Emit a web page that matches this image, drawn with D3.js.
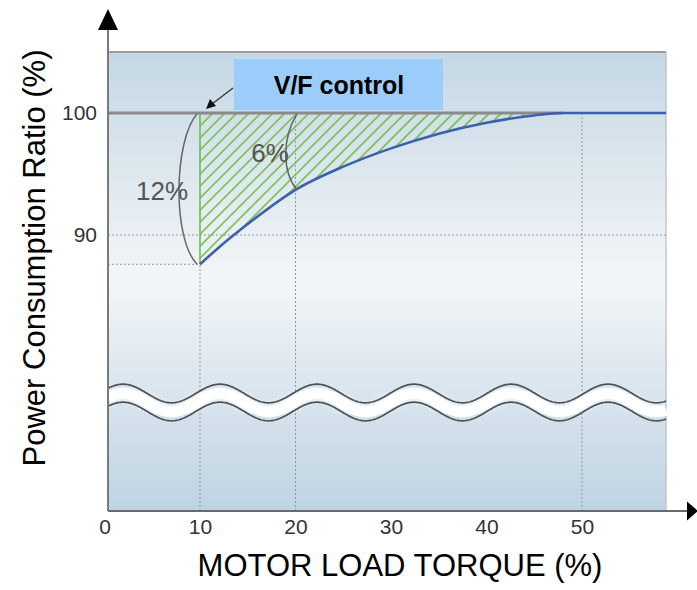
<!DOCTYPE html>
<html>
<head>
<meta charset="utf-8">
<script src="https://cdn.jsdelivr.net/npm/d3@7/dist/d3.min.js"></script>
<style>
  html, body { margin: 0; padding: 0; background: #fff; }
  svg { display: block; font-family: "Liberation Sans", Arial, sans-serif; }
</style>
</head>
<body>
<svg id="chart" width="697" height="590"></svg>
<script>
// ---- data ----
const torque = [10, 12, 15, 20, 25, 30, 35, 40, 45, 48, 50, 58.8];
const ratio  = [87.6, 89.0, 90.9, 93.7, 95.6, 97.1, 98.3, 99.2, 99.8, 100, 100, 100];
const xTicks = [0, 10, 20, 30, 40, 50];
const yTicks = [90, 100];
const gridX = [10, 20, 50];
const gridY = [90];
const xMax = 58.8;
const yTop = 105;
const baseLine = 100;
const minRatio = 87.6;
const saving12 = "12%";
const saving6 = "6%";
const legendLabel = "V/F control";
const xTitle = "MOTOR LOAD TORQUE (%)";
const yTitle = "Power Consumption Ratio (%)";

function draw() {
const svg = d3.select("#chart");
const x = d3.scaleLinear().domain([0, 50]).range([104.5, 582]);
const y = d3.scaleLinear().domain([90, 100]).range([235, 113]);

const pLeft = 108, pRight = x(xMax), pTop = y(yTop), pBottom = 511;

const defs = svg.append("defs");
const grad = defs.append("linearGradient").attr("id", "bg")
  .attr("x1", 0).attr("y1", 0).attr("x2", 0).attr("y2", 1);
[[0, "#c4d7e5"], [0.18, "#d6e2eb"], [0.5, "#f3f6f8"], [0.62, "#e6edf3"], [1, "#bfd3e2"]]
  .forEach(([o, c]) => grad.append("stop").attr("offset", o).attr("stop-color", c));

const pat = defs.append("pattern").attr("id", "hatch")
  .attr("patternUnits", "userSpaceOnUse").attr("width", 8.5).attr("height", 8.5)
  .attr("patternTransform", "rotate(45)");
pat.append("line").attr("x1", 1).attr("y1", 0).attr("x2", 1).attr("y2", 8.5)
  .attr("stroke", "#6cbf4a").attr("stroke-width", 1.6);

const blur = defs.append("filter").attr("id", "soft");
blur.append("feGaussianBlur").attr("stdDeviation", 1.6);

// plot background
svg.append("rect").attr("x", pLeft).attr("y", pTop).attr("width", pRight - pLeft)
  .attr("height", pBottom - pTop).attr("fill", "url(#bg)");

// grid
svg.selectAll(".gx").data(gridX).join("line")
  .attr("x1", d => x(d)).attr("x2", d => x(d)).attr("y1", y(baseLine)).attr("y2", pBottom)
  .attr("stroke", "#8f979e").attr("stroke-width", 1).attr("stroke-dasharray", "2,2");
svg.selectAll(".gy").data(gridY).join("line")
  .attr("x1", pLeft).attr("x2", pRight).attr("y1", d => y(d)).attr("y2", d => y(d))
  .attr("stroke", "#8f979e").attr("stroke-width", 1).attr("stroke-dasharray", "2,2");
svg.append("line").attr("x1", pLeft).attr("x2", x(torque[0]))
  .attr("y1", y(minRatio)).attr("y2", y(minRatio))
  .attr("stroke", "#8f979e").attr("stroke-width", 1).attr("stroke-dasharray", "2,2");

// plot border top / right
svg.append("line").attr("x1", pLeft).attr("x2", pRight).attr("y1", pTop).attr("y2", pTop)
  .attr("stroke", "#9a9a9a").attr("stroke-width", 2);
svg.append("line").attr("x1", pRight).attr("x2", pRight).attr("y1", pTop).attr("y2", pBottom)
  .attr("stroke", "#c4c8cc").attr("stroke-width", 1.5);

// hatched saving area
const pts = torque.map((t, i) => [t, ratio[i]]);
const area = d3.area().x(d => x(d[0])).y0(y(baseLine)).y1(d => y(d[1])).curve(d3.curveMonotoneX);
svg.append("path").datum(pts.filter(d => d[0] <= 48)).attr("d", area)
  .attr("fill", "url(#hatch)");
svg.append("line").attr("x1", x(10)).attr("x2", x(10)).attr("y1", y(baseLine)).attr("y2", y(minRatio))
  .attr("stroke", "#6cbf4a").attr("stroke-width", 1.5);

// 100% reference line (gray)
svg.append("line").attr("x1", pLeft).attr("x2", x(48)).attr("y1", y(baseLine)).attr("y2", y(baseLine))
  .attr("stroke", "#8a8a8a").attr("stroke-width", 3);

// curve
const line = d3.line().x(d => x(d[0])).y(d => y(d[1])).curve(d3.curveMonotoneX);
svg.append("path").datum(pts).attr("d", line)
  .attr("fill", "none").attr("stroke", "#3d5fae").attr("stroke-width", 2.6);

// axis break wave
const waveMid = 402.5, amp = 9.3, period = 97, phase = 123, gap = 9;
const wx = d3.range(pLeft, pRight + 0.5, 1);
const wave = off => d3.line().x(d => d).y(d => waveMid + off - amp * Math.cos(2 * Math.PI * (d - phase) / period))(wx);
svg.append("path").attr("d", wave(0)).attr("fill", "none")
  .attr("stroke", "#e8f0f7").attr("stroke-width", 19).attr("filter", "url(#soft)");
svg.append("path").attr("d", wave(0)).attr("fill", "none")
  .attr("stroke", "#ffffff").attr("stroke-width", 11);
[-gap, gap].forEach(off => svg.append("path").attr("d", wave(off)).attr("fill", "none")
  .attr("stroke", "#4e5256").attr("stroke-width", 1.7));

// axes lines with arrows
svg.append("line").attr("x1", pLeft).attr("x2", pLeft).attr("y1", pBottom).attr("y2", 28)
  .attr("stroke", "#7a7a7a").attr("stroke-width", 2);
svg.append("path").attr("d", `M${pLeft - 10},30 L${pLeft + 10},30 L${pLeft},9 Z`).attr("fill", "#000");
svg.append("line").attr("x1", pLeft).attr("x2", 690).attr("y1", pBottom).attr("y2", pBottom)
  .attr("stroke", "#6a6a6a").attr("stroke-width", 2.2);
svg.append("path").attr("d", `M687,${pBottom - 9.5} L687,${pBottom + 9.5} L698,${pBottom} Z`).attr("fill", "#000");

// tick labels via axes
const gx = svg.append("g").attr("transform", `translate(0,${pBottom})`)
  .call(d3.axisBottom(x).tickValues(xTicks).tickSize(0).tickPadding(8));
gx.select(".domain").remove();
gx.selectAll("text").attr("font-size", 21).attr("fill", "#333")
  .attr("font-family", "Liberation Sans, Arial, sans-serif");
const gy = svg.append("g").attr("transform", `translate(${pLeft},0)`)
  .call(d3.axisLeft(y).tickValues(yTicks).tickSize(0).tickPadding(11));
gy.select(".domain").remove();
gy.selectAll("text").attr("font-size", 21).attr("fill", "#333")
  .attr("font-family", "Liberation Sans, Arial, sans-serif");

// brackets and percentages
svg.append("path").attr("d", `M197,${y(baseLine) + 1} C174,140 172,238 197,${y(minRatio)}`)
  .attr("fill", "none").attr("stroke", "#666").attr("stroke-width", 1.5);
svg.append("path").attr("d", `M297,${y(baseLine) + 1} C282,138 282,172 297,${y(93.7)}`)
  .attr("fill", "none").attr("stroke", "#666").attr("stroke-width", 1.5);
svg.append("text").attr("x", 162).attr("y", 200).attr("text-anchor", "middle")
  .attr("font-size", 26).attr("fill", "#555").text(saving12);
svg.append("text").attr("x", 270).attr("y", 162).attr("text-anchor", "middle")
  .attr("font-size", 26).attr("fill", "#555").text(saving6);

// V/F control label box and arrow
svg.append("rect").attr("x", 234).attr("y", 59).attr("width", 209).attr("height", 51)
  .attr("fill", "#9ccdfa");
svg.append("text").attr("x", 339).attr("y", 94).attr("text-anchor", "middle")
  .attr("font-size", 25).attr("font-weight", "bold").attr("fill", "#000").text(legendLabel);
svg.append("line").attr("x1", 233).attr("y1", 88).attr("x2", 212).attr("y2", 104)
  .attr("stroke", "#333").attr("stroke-width", 1.4);
svg.append("path").attr("d", "M206,109 L210,99 L216,106 Z").attr("fill", "#111");

// titles
svg.append("text").attr("x", 400).attr("y", 576).attr("text-anchor", "middle")
  .attr("font-size", 31).attr("fill", "#000").text(xTitle);
svg.append("text").attr("transform", "translate(45,258) rotate(-90)").attr("text-anchor", "middle")
  .attr("font-size", 31).attr("fill", "#000").text(yTitle);
}
draw();
</script>
</body>
</html>
